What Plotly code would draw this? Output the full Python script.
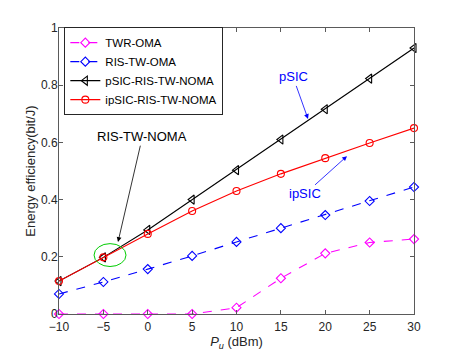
import plotly.graph_objects as go

# transmit power P_u (dBm)
p_u = [-10, -5, 0, 5, 10, 15, 20, 25, 30]

# energy efficiency (bit/J) of each scheme
twr_oma = [0.0, 0.0, 0.0, 0.0, 0.022, 0.125, 0.212, 0.25, 0.262]
ris_tw_oma = [0.07, 0.112, 0.157, 0.203, 0.252, 0.30, 0.346, 0.395, 0.444]
psic_noma = [0.115, 0.198, 0.294, 0.40, 0.503, 0.61, 0.716, 0.823, 0.93]
ipsic_noma = [0.115, 0.198, 0.28, 0.36, 0.43, 0.49, 0.545, 0.598, 0.65]

x_ticks = [-10, -5, 0, 5, 10, 15, 20, 25, 30]
y_ticks = [0, 0.2, 0.4, 0.6, 0.8, 1]
y_labels = ['0', '0.2', '0.4', '0.6', '0.8', '1']

series = [
    ('TWR-OMA', twr_oma, '#ff00ff', 'dash', 'diamond-open', 7),
    ('RIS-TW-OMA', ris_tw_oma, '#0000ff', 'dash', 'diamond-open', 7),
    ('pSIC-RIS-TW-NOMA', psic_noma, '#000000', 'solid', 'triangle-left-open', 8),
    ('ipSIC-RIS-TW-NOMA', ipsic_noma, '#ff0000', 'solid', 'circle-open', 7),
]

FONT = 'Liberation Sans, Arial, sans-serif'

fig = go.Figure()
for name, vals, color, dash, symbol, size in series:
    fig.add_trace(go.Scatter(
        x=p_u, y=vals, name=name, mode='lines+markers', cliponaxis=False,
        line=dict(color=color, width=1.1, dash=dash),
        marker=dict(symbol=symbol, size=size, color=color,
                    line=dict(color=color, width=1.1)),
    ))

# green ellipse around the point where both NOMA curves meet
fig.add_shape(type='circle', xref='x', yref='y',
              x0=-6.05, x1=-2.45, y0=0.166, y1=0.246,
              line=dict(color='#00cc00', width=1))

fig.add_annotation(x=-3.35, y=0.252, ax=-0.6, ay=0.62, axref='x', ayref='y',
                   text='RIS-TW-NOMA', showarrow=True, arrowhead=2,
                   arrowsize=1.2, arrowwidth=0.8, arrowcolor='#000000',
                   font=dict(family=FONT, size=13, color='#000000'))
fig.add_annotation(x=18.06, y=0.682, ax=16.37, ay=0.829, axref='x', ayref='y',
                   text='pSIC', showarrow=True, arrowhead=2,
                   arrowsize=1.2, arrowwidth=0.8, arrowcolor='#0000ff',
                   font=dict(family=FONT, size=13, color='#0000ff'))
fig.add_annotation(x=22.45, y=0.552, ax=17.72, ay=0.42, axref='x', ayref='y',
                   text='ipSIC', showarrow=True, arrowhead=2,
                   arrowsize=1.2, arrowwidth=0.8, arrowcolor='#0000ff',
                   font=dict(family=FONT, size=13, color='#0000ff'))

axis_common = dict(showgrid=False, zeroline=False, showline=True, mirror='ticks',
                   linecolor='#5a5a5a', linewidth=1, ticks='inside', ticklen=4,
                   tickcolor='#5a5a5a',
                   tickfont=dict(family=FONT, size=12, color='#262626'))

fig.update_xaxes(range=[-10, 30], tickvals=x_ticks, ticklabelstandoff=2,
                 automargin=True,
                 title=dict(text='<i>P</i><sub><i>u</i></sub> (dBm)', standoff=0,
                            font=dict(family=FONT, size=13, color='#262626')),
                 **axis_common)
fig.update_yaxes(range=[0, 1], tickvals=y_ticks, ticktext=y_labels,
                 ticklabelstandoff=-2, automargin=True,
                 title=dict(text='Energy efficiency(bit/J)', standoff=2,
                            font=dict(family=FONT, size=13, color='#262626')),
                 **axis_common)

# page body has an 8px margin, so the figure is offset inside the window
fig.update_layout(
    width=441, height=352,
    margin=dict(l=51, r=35, t=20, b=46),
    plot_bgcolor='white', paper_bgcolor='white',
    legend=dict(x=0.015, y=1.003, xanchor='left', yanchor='top',
                bgcolor='white', bordercolor='#262626', borderwidth=1,
                font=dict(family=FONT, size=11.5, color='#000000'),
                tracegroupgap=0, itemwidth=30),
    showlegend=True,
)

fig.write_html('out.html')
